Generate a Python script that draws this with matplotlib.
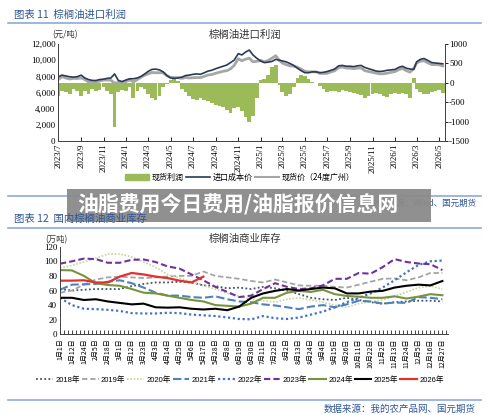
import numpy as np
import pandas as pd
import matplotlib
matplotlib.use("Agg")
import matplotlib.pyplot as plt
import matplotlib.ticker as mticker
from matplotlib.patches import Rectangle, Patch
from matplotlib.lines import Line2D

plt.rcParams['font.family'] = ['Liberation Serif', 'Noto Sans CJK SC']
plt.rcParams['axes.unicode_minus'] = False
CJK = ['Noto Sans CJK SC', 'DejaVu Sans']
SANS = ['Liberation Sans', 'Noto Sans CJK SC']

# ---------------- data: import profit (3 points per month, 2023/7 - 2026/5) --------------
months = pd.period_range('2023-07', '2026-05', freq='M')
dates = pd.to_datetime([f"{p.year}-{p.month:02d}-{d:02d}" for p in months for d in (1, 11, 21)])[:104]

import_cost = [7950, 8150, 8050, 7950, 7900, 7950, 8150, 7800, 7600, 7500, 7480, 7600, 7650,
               7750, 7800, 8300, 7500, 7350, 7550, 7700, 7700, 7800, 8000, 8300, 8600, 8850,
               8900, 8800, 8550, 8100, 7800, 7750, 7800, 7900, 8100, 8150, 8250, 8300, 8250,
               8450, 8650, 8750, 8950, 9100, 9250, 9400, 9700, 10000, 10800, 10650, 11000, 11250,
               10650, 10250, 9900, 9700, 9750, 9850, 10100, 10000, 9900, 9800, 9600, 9350, 9000,
               8700, 8450, 8450, 8550, 8550, 8450, 8500, 8600, 8750, 8900, 9300, 9350, 9250,
               9250, 9200, 9300, 9350, 9100, 8950, 8800, 8650, 8600, 8650, 8750, 8800, 8850,
               9100, 9250, 9000, 8900, 8850, 9800, 10100, 10200, 9950, 9700, 9650, 9600, 9550]

spot_price = [7600, 7950, 7800, 7670, 7750, 7730, 7800, 7600, 7320, 7350, 7280, 7420, 7530,
              7550, 7520, 7150, 7250, 7170, 7350, 7580, 7320, 7600, 7900, 8150, 8300, 8470,
              8450, 8450, 8450, 8080, 7880, 7840, 7840, 7750, 7870, 7800, 7830, 7850, 7850,
              8000, 8170, 8220, 8390, 8500, 8630, 8700, 8920, 9350, 10180, 9930, 10120, 10250,
              9800, 9850, 9960, 9800, 9950, 10250, 10550, 9950, 9650, 9450, 9300, 9250, 9120,
              8900, 8630, 8550, 8570, 8550, 8370, 8350, 8370, 8550, 8680, 9070, 9160, 9030,
              9010, 8940, 9020, 9030, 8700, 8600, 8500, 8390, 8310, 8320, 8390, 8500, 8590,
              8820, 8980, 8700, 8520, 8970, 9650, 9870, 9920, 9650, 9450, 9450, 9420, 9290]

spot_profit = [-350, -200, -250, -280, -150, -220, -350, -200, -280, -150, -200, -180, -120,
               -200, -280, -1150, -250, -180, -200, -120, -380, -200, -100, -150, -300, -380,
               -450, -350, -100, -20, 80, 90, 40, -150, -230, -350, -420, -450, -400,
               -450, -480, -530, -560, -600, -620, -700, -780, -650, -620, -720, -880, -1000,
               -850, -400, 60, 100, 200, 400, 450, -50, -250, -350, -300, -100, 120,
               200, 180, 100, 20, 0, -80, -150, -230, -200, -220, -230, -190, -220,
               -240, -260, -280, -320, -400, -350, -300, -260, -290, -330, -360, -300, -260,
               -280, -270, -300, -380, 120, -150, -230, -280, -300, -250, -200, -180, -260]

top_ticks = pd.date_range('2023-07-01', '2026-05-01', freq='2MS')

# ---------------- data: commercial stock (万吨) ----------------
day_labels = ['1月1日', '1月12日', '1月24日', '2月5日', '2月18日', '3月1日', '3月12日', '3月23日',
              '4月3日', '4月14日', '4月25日', '5月6日', '5月17日', '5月28日', '6月8日', '6月19日',
              '6月30日', '7月11日', '7月22日', '8月2日', '8月13日', '8月24日', '9月4日', '9月15日',
              '9月26日', '10月11日', '10月22日', '11月2日', '11月13日', '11月24日', '12月5日',
              '12月16日', '12月27日']

stock = {
    '2018年': [62, 60, 61, 62, 62, 62, 66, 69, 71, 71, 72, 71, 67, 66, 63, 64, 62, 65, 63, 60,
              55, 50, 48, 47, 50, 47, 44, 42, 44, 45, 46, 46, 45],
    '2019年': [57, 60, 68, 75, 78, 79, 78, 77, 78, 79, 80, 80, 86, 80, 78, 76, 73, 71, 75, 71,
              67, 66.5, 66.5, 65, 64, 68, 72, 76, 76.5, 74, 78, 84, 84],
    '2020年': [90.7, 94.4, 99, 104, 110, 110, 106, 99, 92, 82, 77, 72, 67, 62, 56, 52, 48, 46,
              44, 48, 50, 47, 44, 40, 37, 42, 45, 47, 52, 58, 64, 66, 62],
    '2021年': [61, 68, 68.5, 69, 72, 74, 70, 64, 57, 53, 53, 51, 50, 52, 48, 45, 44, 41, 39.5,
              37, 34.5, 38, 40, 37, 41, 46, 45, 42, 43.5, 43, 51, 50, 48],
    '2022年': [50, 40, 35, 34.5, 33.5, 32, 29, 28.5, 28.5, 29.5, 29, 27, 26, 25, 23, 21, 20.5,
              25, 22, 21, 23, 27, 31, 37, 44, 50, 56, 64, 74, 85, 95, 100, 101],
    '2023年': [96.7, 100, 103.7, 103, 98, 98, 102, 102.5, 99, 93, 90, 82, 74, 65, 58, 51, 53,
              62, 70, 65, 62, 63, 67, 76, 76, 84, 83, 92, 103, 99, 97, 96, 88],
    '2024年': [88, 87.5, 80, 70, 67.5, 66.5, 62, 57, 56, 53, 50, 47, 45, 40, 39, 38, 42, 50, 50,
              57, 59.5, 58, 61, 55, 52.5, 51.5, 50, 50, 52, 49, 51.6, 55, 53.5],
    '2025年': [50, 50, 47, 48, 45, 43, 41, 42, 37, 36.5, 37, 35, 34, 35, 33, 38, 50, 56, 59.5,
              62, 60, 62, 64, 63, 56, 56, 58.5, 59.5, 64, 66.5, 68, 67, 73],
    '2026年': [73.5, 73.5, 74, 71, 71, 79, 84, 82, 79, 77, 73.5, 71, 79],
}
styles = {
    '2018年': dict(color='#44546A', ls=(0, (1, 1.3)), lw=1.3),
    '2019年': dict(color='#A5A5A5', ls=(0, (3, 1.5)), lw=1.3),
    '2020年': dict(color='#C3D69B', ls=(0, (1, 1)), lw=1.2),
    '2021年': dict(color='#4F81BD', ls=(0, (4, 1.5)), lw=1.5),
    '2022年': dict(color='#4472C4', ls=(0, (1, 1.2)), lw=1.6),
    '2023年': dict(color='#7030A0', ls=(0, (3, 1.5)), lw=1.5),
    '2024年': dict(color='#77933C', ls='-', lw=1.5),
    '2025年': dict(color='black', ls='-', lw=1.5),
    '2026年': dict(color='#E0312F', ls='-', lw=1.6),
}

W, H = 500, 415
def box(x0, y0, x1, y1):
    return [x0 / W, 1 - y1 / H, (x1 - x0) / W, (y1 - y0) / H]
def fy(y):
    return 1 - y / H

fig = plt.figure(figsize=(W / 100, H / 100), dpi=100)
blue_txt = '#2F5597'
rule = '#8EA9DB'

# header lines and captions
for yy in (23, 196, 228, 400):
    fig.add_artist(Line2D([8 / W, 481 / W], [fy(yy)] * 2, color=rule, lw=1.2))
fig.text(14 / W, fy(15), '图表 11  棕榈油进口利润', color=blue_txt, fontsize=7.5, va='center', family=CJK)
fig.text(477 / W, fy(203), '数据来源：Wind、国元期货', color=blue_txt, fontsize=6.1, va='center', ha='right', family=CJK)
fig.text(476 / W, fy(409), '数据来源：我的农产品网、国元期货', color=blue_txt, fontsize=6.8, va='center', ha='right', family=CJK)

# ---------------- top chart ----------------
ax1 = fig.add_axes(box(58.3, 44, 445, 141))
ax2 = ax1.twinx()
ax1.set_zorder(ax2.get_zorder() + 1)
ax1.patch.set_visible(False)

ax2.bar(dates, spot_profit, width=10.3, color='#9BBB59', linewidth=0)
ax1.plot(dates, spot_price, color='#A6A6A6', lw=2.0)
ax1.plot(dates, import_cost, color='#2B3A55', lw=1.2)

ax1.set_xlim(pd.Timestamp('2023-07-01'), pd.Timestamp('2026-05-17'))
ax1.set_ylim(0, 12000)
ax1.set_yticks(range(0, 12001, 2000))
ax1.yaxis.set_major_formatter(mticker.FuncFormatter(lambda v, p: f"{v:,.0f}"))
ax2.set_ylim(-1500, 1000)
ax2.set_yticks(range(-1500, 1001, 500))
ax1.set_xticks(top_ticks)
ax1.set_xticklabels([f"{d.year}/{d.month}" for d in top_ticks], rotation=90, fontsize=6.3)
ax1.tick_params(axis='x', direction='in', length=3, width=0.6, pad=2)
ax1.tick_params(axis='y', length=0, labelsize=6.5, pad=2)
ax2.tick_params(axis='y', length=2, width=0.6, labelsize=6.5, pad=1)
for a in (ax1, ax2):
    a.spines['top'].set_visible(False)
    for s in a.spines.values():
        s.set_color('#404040')
        s.set_linewidth(0.7)
ax1.spines['right'].set_visible(False)
ax2.spines['left'].set_visible(False)
ax2.spines['bottom'].set_visible(False)

fig.text(245 / W, fy(35), '棕榈油进口利润', fontsize=7.5, ha='center', va='center', family=CJK, color='#333333')
fig.text(52 / W, fy(35), '(元/吨)', fontsize=6, va='center', family=CJK, color='#333333')

top_handles = [Patch(color='#9BBB59'), Line2D([], [], color='#2B3A55', lw=1.2),
               Line2D([], [], color='#A6A6A6', lw=1.5)]
fig.legend(top_handles, ['现货利润', '进口成本价', '现货价（24度广州）'], loc='center',
           bbox_to_anchor=(240 / W, fy(177)), ncol=3, frameon=False, prop={'family': CJK, 'size': 5.8},
           handlelength=3.0, handleheight=0.8, handletextpad=0.3, columnspacing=0.3)

# banner
fig.add_artist(Rectangle((67 / W, fy(222)), (431 - 67) / W, 33 / H, transform=fig.transFigure,
                         facecolor='#8a8a8a', edgecolor='none', alpha=0.95, zorder=5))
fig.text(238 / W, fy(205), '油脂费用今日费用/油脂报价信息网', color='white', fontsize=15,
         fontweight='bold', ha='center', va='center', family=CJK, zorder=6)
fig.text(14 / W, fy(219), '图表 12  国内棕榈油商业库存', color=blue_txt, fontsize=7.5, va='center',
         family=CJK, zorder=7)

# ---------------- bottom chart ----------------
ax3 = fig.add_axes(box(60, 246.7, 448, 334.3))
xs = np.arange(len(day_labels))
for name, vals in stock.items():
    ax3.plot(xs[:len(vals)], vals, label=name, **styles[name])
ax3.set_xlim(0, 32.47)
ax3.set_ylim(0, 120)
ax3.set_yticks(range(0, 121, 20))
ax3.set_xticks(xs)
ax3.set_xticklabels(day_labels, rotation=90, fontsize=5, family=CJK)
ax3.set_xticks(np.arange(0, 32.5, 1 / 3), minor=True)
ax3.tick_params(axis='x', which='both', direction='in', length=3, width=0.5, pad=3)
ax3.tick_params(axis='y', length=0, labelsize=6.5, pad=2)
ax3.spines['top'].set_visible(False)
ax3.spines['right'].set_visible(False)
for s in ('left', 'bottom'):
    ax3.spines[s].set_color('#404040')
    ax3.spines[s].set_linewidth(0.7)

fig.text(245 / W, fy(239), '棕榈油商业库存', fontsize=7.5, ha='center', va='center', family=CJK, color='#333333')
fig.text(45 / W, fy(240), '(万吨)', fontsize=6, va='center', family=CJK, color='#333333')

fig.legend(*ax3.get_legend_handles_labels(), loc='center', bbox_to_anchor=(240 / W, fy(380)),
           ncol=9, frameon=False, prop={'family': SANS, 'size': 5.5}, handlelength=2.2,
           handletextpad=0.3, columnspacing=0.25)

fig.savefig('out.png', dpi=100)
